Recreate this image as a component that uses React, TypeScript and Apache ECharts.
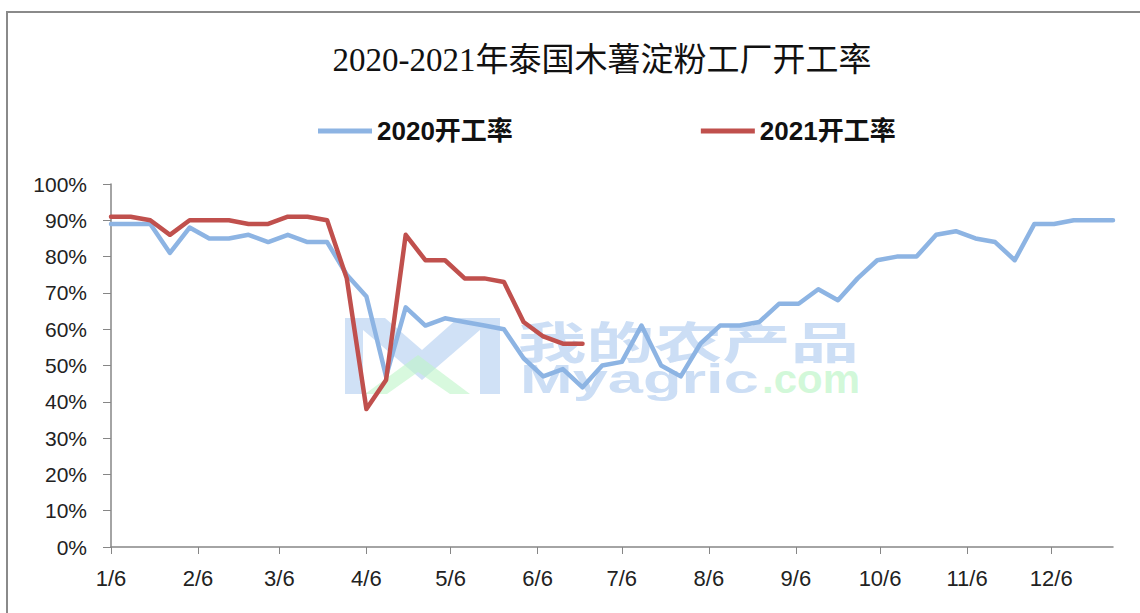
import React, { useEffect, useRef } from "react";
import * as echarts from "echarts";

// Weekly observation dates run from 2020-01-06 to 2020-12-28 (Excel date axis, daily base unit)
const axisStart = [2020, 1, 6];
const axisEnd = [2020, 12, 28];

// Weekly operating rate (%)
const rate2020 = [
  89, 89, 89, 81, 88, 85, 85, 86, 84, 86, 84, 84, 75, 69, 47, 66, 61, 63, 62, 61,
  60, 52, 47, 49, 44, 50, 51, 61, 50, 47, 56, 61, 61, 62, 67, 67, 71, 68, 74, 79,
  80, 80, 86, 87, 85, 84, 79, 89, 89, 90, 90, 90,
];
const rate2021 = [
  91, 91, 90, 86, 90, 90, 90, 89, 89, 91, 91, 90, 74, 38, 46, 86, 79, 79, 74, 74,
  73, 62, 58, 56, 56,
];

const seriesNames = ["2020开工率", "2021开工率"];
const titleText = "2020-2021年泰国木薯淀粉工厂开工率";
const yTicks = [0, 10, 20, 30, 40, 50, 60, 70, 80, 90, 100];

function buildDays(): string[] {
  const out: string[] = [];
  const d = new Date(axisStart[0], axisStart[1] - 1, axisStart[2]);
  const end = new Date(axisEnd[0], axisEnd[1] - 1, axisEnd[2]);
  while (d <= end) {
    out.push(`${d.getMonth() + 1}/${d.getDate()}`);
    d.setDate(d.getDate() + 1);
  }
  return out;
}

const dayLabels = buildDays();

function weeklyToDaily(values: number[]): (number | null)[] {
  return dayLabels.map((_, i) => (i % 7 === 0 && i / 7 < values.length ? values[i / 7] : null));
}

const isSixth = (_: number, v: string) => v.split("/")[1] === "6";

export default function App() {
  const ref = useRef<HTMLDivElement>(null);
  useEffect(() => {
    document.body.style.margin = "0";
    const chart = echarts.init(ref.current!, null, { renderer: "svg" });
    const axisColor = "#868686";
    chart.setOption({
      animation: false,
      backgroundColor: "#ffffff",
      title: {
        text: titleText,
        left: 597,
        textAlign: "center",
        top: 38,
        textStyle: {
          fontFamily: "'Liberation Serif', 'Noto Sans CJK SC', serif",
          fontSize: 33,
          fontWeight: "normal",
          color: "#111",
        },
      },
      legend: {
        left: 313,
        top: 113,
        icon: "rect",
        itemWidth: 54,
        itemHeight: 5,
        itemGap: 188,
        data: seriesNames,
        textStyle: {
          fontFamily: "'Liberation Sans', 'Noto Sans CJK SC', sans-serif",
          fontSize: 26,
          fontWeight: "bold",
          color: "#111",
        },
      },
      grid: { left: 111, right: 27, top: 184, bottom: 66, containLabel: false },
      xAxis: {
        type: "category",
        data: dayLabels,
        boundaryGap: false,
        axisLine: { lineStyle: { color: axisColor, width: 1.5 } },
        axisTick: { interval: isSixth, length: 7, lineStyle: { color: axisColor } },
        axisLabel: {
          interval: isSixth,
          margin: 20,
          fontSize: 22,
          color: "#222",
          fontFamily: "'Liberation Sans', sans-serif",
        },
        splitLine: { show: false },
      },
      yAxis: {
        type: "value",
        min: yTicks[0],
        max: yTicks[yTicks.length - 1],
        interval: 10,
        axisLine: { show: true, lineStyle: { color: axisColor, width: 1.5 } },
        axisTick: { show: true, length: 8, lineStyle: { color: axisColor } },
        axisLabel: {
          formatter: (v: number) => `${v}%`,
          margin: 24,
          fontSize: 21,
          color: "#222",
          fontFamily: "'Liberation Sans', sans-serif",
        },
        splitLine: { show: false },
      },
      graphic: [
        {
          type: "rect",
          shape: { x: 7, y: 12, width: 1200, height: 700 },
          style: { fill: "none", stroke: "#8a8a8a", lineWidth: 2 },
          silent: true,
          z: 0,
        },
        // watermark logo
        {
          type: "group",
          silent: true,
          z: 0,
          children: [
            { type: "rect", shape: { x: 345, y: 318, width: 18, height: 76 }, style: { fill: "rgba(170,200,238,0.55)" } },
            { type: "rect", shape: { x: 480, y: 318, width: 20, height: 76 }, style: { fill: "rgba(170,200,238,0.55)" } },
            { type: "polygon", shape: { points: [[363, 318], [385, 318], [422, 350], [458, 318], [480, 318], [480, 330], [422, 380], [363, 330]] }, style: { fill: "rgba(170,200,238,0.55)" } },
            { type: "polygon", shape: { points: [[365, 394], [418, 355], [470, 394], [450, 394], [418, 372], [387, 394]] }, style: { fill: "rgba(190,245,200,0.6)" } },
          ],
        },
        {
          type: "text",
          x: 518,
          y: 318,
          scaleX: 1.55,
          silent: true,
          z: 0,
          style: {
            text: "我的农产品",
            font: "bold 44px 'Noto Sans CJK SC', sans-serif",
            fill: "rgba(170,200,238,0.6)",
          },
        },
        {
          type: "text",
          x: 520,
          y: 359,
          scaleX: 1.58,
          silent: true,
          z: 0,
          style: {
            text: "Myagric",
            font: "bold 40px 'Liberation Sans', sans-serif",
            fill: "rgba(170,200,238,0.6)",
          },
        },
        {
          type: "text",
          x: 762,
          y: 359,
          scaleX: 1.05,
          silent: true,
          z: 0,
          style: {
            text: ".com",
            font: "bold 40px 'Liberation Sans', sans-serif",
            fill: "rgba(190,245,200,0.7)",
          },
        },
      ],
      series: [
        {
          name: seriesNames[0],
          type: "line",
          data: weeklyToDaily(rate2020),
          connectNulls: true,
          symbol: "none",
          color: "#8DB4E3",
          lineStyle: { width: 4.5, color: "#8DB4E3", join: "round", cap: "round" },
          z: 3,
        },
        {
          name: seriesNames[1],
          type: "line",
          data: weeklyToDaily(rate2021),
          connectNulls: true,
          symbol: "none",
          color: "#C0504D",
          lineStyle: { width: 4.5, color: "#C0504D", join: "round", cap: "round" },
          z: 4,
        },
      ],
    });
    return () => chart.dispose();
  }, []);
  return <div ref={ref} style={{ width: 1140, height: 613 }} />;
}
